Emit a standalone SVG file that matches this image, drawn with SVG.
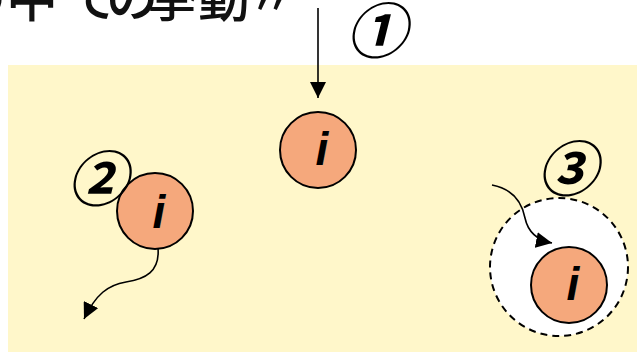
<svg xmlns="http://www.w3.org/2000/svg" width="637" height="352" viewBox="0 0 637 352">
<defs>
<style>
.ball{fill:#F5A87C;stroke:#000;stroke-width:2}
.ilab{font-family:"Liberation Sans",Arial,sans-serif;font-weight:bold;font-style:italic;font-size:46px;fill:#000;text-anchor:middle}
.num{font-family:"Noto Sans CJK JP","DejaVu Sans",sans-serif;font-weight:bold;font-style:italic;font-size:60px;fill:#000;text-anchor:middle}
.conn{fill:none;stroke:#000;stroke-width:1.6}
.title{font-family:"Noto Sans CJK JP","Noto Sans CJK SC",sans-serif;font-weight:500;font-size:52px;fill:#111}
</style>
<marker id="ah2" viewBox="0 0 16 16" refX="16" refY="8" markerWidth="16" markerHeight="16" markerUnits="userSpaceOnUse" orient="auto">
<path d="M0,0 L16,8 L0,16 Z" fill="#000"/>
</marker>
</defs>
<rect x="8" y="65" width="629" height="287" fill="#FFF7CA"/>
<text class="title" x="-46 6 67 106 146 198 247" y="17">の中での挙動〃</text>
<g id="zone3">
<circle cx="559" cy="267" r="69" fill="#FFFFFF" stroke="#000" stroke-width="2" stroke-dasharray="7,5"/>
</g>
<g id="connectors">
<path class="conn" d="M318,8 L318,98" marker-end="url(#ah2)"/>
<path class="conn" d="M158,248 C160,272 145,279 126,282 C108,285 96,294 84,319" marker-end="url(#ah2)"/>
<path class="conn" d="M492,185 C513,189 522,203 525,218 C528,232 536,240 552,243" marker-end="url(#ah2)"/>
</g>
<g id="node1">
<circle class="ball" cx="318" cy="150" r="38"/>
<text class="ilab" x="322" y="165">i</text>
</g>
<g id="node2">
<circle class="ball" cx="155" cy="211" r="38"/>
<text class="ilab" x="159" y="228">i</text>
</g>
<g id="node3">
<circle class="ball" cx="569" cy="285" r="38"/>
<text class="ilab" x="573" y="300">i</text>
</g>
<g id="labels">
<text class="num" x="376" y="53">①</text>
<text class="num" x="97" y="201">②</text>
<text class="num" x="567" y="191">③</text>
</g>
</svg>
